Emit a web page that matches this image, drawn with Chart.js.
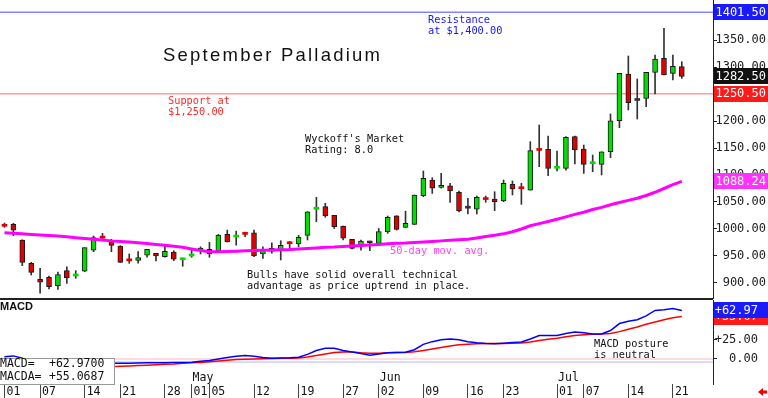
<!DOCTYPE html>
<html>
<head>
<meta charset="utf-8">
<script src="https://cdn.jsdelivr.net/npm/chart.js@4"></script>
<style>
  html, body { margin: 0; padding: 0; background: #fff; }
  #wrap { position: relative; width: 768px; height: 398px; overflow: hidden; background: #fff; }
  #priceBox { position: absolute; left: 0; top: 0; width: 768px; height: 300px; }
  #macdBox { position: absolute; left: 0; top: 300px; width: 768px; height: 98px; }
</style>
</head>
<body>
<div id="wrap">
  <div id="priceBox"><canvas id="priceChart"></canvas></div>
  <div id="macdBox"><canvas id="macdChart"></canvas></div>
</div>
<script>
// trading days, Apr 01 - Jul 22
const dates = [
  "04-01","04-02","04-03","04-04","04-07","04-08","04-09","04-10","04-11","04-14","04-15","04-16","04-17",
  "04-21","04-22","04-23","04-24","04-25","04-28","04-29","04-30",
  "05-01","05-02","05-05","05-06","05-07","05-08","05-09","05-12","05-13","05-14","05-15","05-16",
  "05-19","05-20","05-21","05-22","05-23","05-27","05-28","05-29","05-30",
  "06-02","06-03","06-04","06-05","06-06","06-09","06-10","06-11","06-12","06-13","06-16","06-17","06-18","06-20",
  "06-23","06-24","06-25","06-26","06-27","06-30",
  "07-01","07-02","07-03","07-07","07-08","07-09","07-10","07-11","07-14","07-15","07-16","07-17","07-18","07-21","07-22"
];
const emptySlots = ["", "", ""];
const labeledDates = ["04-01","04-07","04-14","04-21","04-28","05-01","05-05","05-12","05-19","05-27",
  "06-02","06-09","06-16","06-23","07-01","07-07","07-14","07-21"];
const monthStarts = ["05-01", "06-02", "07-01"];
const monthNames = ["May", "Jun", "Jul"];
const priceTicks = [900, 950, 1000, 1050, 1100, 1150, 1200, 1250, 1300, 1350, 1400];
const macdTicks = [0, 25, 50];

const opens = [1006.5,1008.7,979.6,936.5,906.8,910.5,895,922.8,913,921.7,961,984.5,978.3,968.5,943,942,951.3,955,948.7,957.4,
  943,950,960,962.4,958.7,990,985,991.5,993,953.7,964,961,974.4,972.2,988.3,1036.5,1041.3,1025.4,1005.5,981,
  968.5,977.8,973.5,995,1024.6,1003,1008.7,1061.7,1090.7,1077,1080,1068,1038.5,1036.5,1056.3,1055.5,1051.8,1082.8,1076,1072,
  1147,1147.6,1112.4,1112.4,1171,1148,1121,1119.8,1143,1200.5,1287,1238,1242,1290,1316,1288.3,1300.6];
const highs = [1011,1010.5,980,938.3,927.2,913,920,930,922.8,965.4,987,992,981,969,953.7,958,962.4,955,968.5,959.8,
  946,962,967,975.4,990,998,996,994.4,998,967,974.6,978.3,977,988.3,1032,1058.7,1047.6,1025.4,1005.5,981,
  979.6,977.8,1001,1024,1024.6,1033,1063,1107.4,1095,1103,1084.6,1070.4,1056.8,1061,1061,1069,1090.7,1088.9,1084.6,1161.7,
  1192.6,1172.2,1144.4,1171,1172.2,1155.6,1137,1143,1213,1288.3,1320.4,1277.8,1290,1322.2,1371.6,1322.2,1309.8];
const lows = [1003,987.6,932,914.8,881,889,888,899.4,908.7,921,958,978.3,958,938,936.5,936.5,947.6,940.7,947.6,941.3,
  931,947.6,953.7,947.6,958,975.9,970,985.7,948.7,945.7,955,942.6,964,967,979.6,1013.5,1021.7,1001,979.6,963,
  961,959.8,972,992,998,1003,1008,1059.8,1066,1075.4,1049.4,1031.5,1027.8,1027.8,1049.4,1033.9,1050.5,1063,1045.7,1072,
  1115.4,1098.7,1107.4,1109,1120.4,1103,1106,1100,1132,1187.6,1220.4,1203.7,1226.5,1250,1285.2,1276,1279];
const closes = [1005,998,938.3,919.8,901.3,893.2,915.4,909.8,915,965.4,983.9,983,969.8,938.3,941,946.9,962.4,950,958.7,943.9,
  945,952,964.8,953.7,988.9,976,986.5,990,950,959.8,959,969.8,972.6,984.6,1032,1038.5,1024,1004.3,982.8,964,
  977.8,974.6,995,1021.7,999.4,1010.5,1063,1093.9,1075.4,1080,1070.4,1033.3,1038.5,1058.7,1054.5,1050.5,1084.6,1074,1074.6,1145,
  1145.5,1112.4,1114.2,1169.8,1146.3,1119.8,1122.4,1143,1200.5,1288.3,1234,1238,1290,1314.8,1285.2,1301.2,1282.5];

const ma50 = [993,992,991,990,989,988,987,985.5,984,982.5,981,979.5,978,977,976,974.5,973,971.5,970,968,
  966,963,960,958,958,958.5,959,959.5,960,960.5,961,961.5,962,963,964,965,966,966.5,967.5,968.5,
  969.5,970.5,971.5,972.5,973.5,974,975,976,977,978,979,980,981,983.5,986,988.5,991,995,1000,1006,
  1010,1014,1018,1022.5,1027,1031,1036,1040,1045,1049,1053,1057,1062,1068,1075,1082,1088.24];

const macd = [3,4,1,-4,-8,-11,-12,-12,-11,-9,-7,-6,-5.5,-5.5,-5.5,-5.2,-5,-5,-4.8,-4.5,
  -4.5,-4.2,-3,-2,0,2,3.5,4.4,3.5,2,1,1.2,1.5,2.2,6,11,14,14,11,9,
  7,5,6.5,8,8.3,8.8,12,19,22.5,25,26,25,22.5,21,20,19.7,20.5,21.5,22,26,
  30.5,30.5,30.5,33,35,34,32.5,32.5,37,46,49,51,56,63,64,65.4,62.97];
const macdAvg = [-2,-2,-2.5,-3,-4,-5,-6,-7,-8,-8.5,-9,-9.5,-10,-9.5,-9,-8.5,-8,-7.5,-7,-6.5,
  -5.5,-5,-4.5,-3.5,-2.5,-1.5,-0.8,-0.4,0,0.3,0.5,0.8,1,1.2,2.5,4.5,6.5,8.5,9.2,9,
  8,7.5,7.5,8,8.3,8.5,9.5,11,13,15,17,18.5,19.2,19.7,20,20,20.2,20.4,20.6,22,
  24,25.5,27,29,30.5,31.5,32,32.3,33,35.5,38.5,41.5,45,48,51,53.5,55.0687];

const resistance = 1401.5;
const support = 1250.5;
const lastPrice = 1282.5;

const categories = dates.concat(emptySlots);
const monoFont = '"DejaVu Sans Mono", monospace';

const bodies = opens.map((o, i) => [Math.min(o, closes[i]), Math.max(o, closes[i])]);
const wicks = lows.map((l, i) => [l, highs[i]]);
const bodyColors = opens.map((o, i) => closes[i] > o ? "#00dd00" : closes[i] < o ? "#e00000" : "#333333");
const bodyBorders = opens.map((o, i) => Math.abs(closes[i] - o) < 2.6 ? 0 : 1);

function valueBox(ctx, yPix, color, text, textRight) {
  ctx.fillStyle = color;
  ctx.fillRect(714, Math.round(yPix) - 8, 54, 16);
  ctx.fillStyle = "#fff";
  ctx.font = "12px " + monoFont;
  ctx.textAlign = "right";
  ctx.textBaseline = "middle";
  ctx.fillText(text, textRight, yPix + 0.5);
}

function textLines(ctx, lines, x, y, step) {
  lines.forEach((t, i) => ctx.fillText(t, x, y + i * step));
}

const priceDecor = {
  id: "priceDecor",
  beforeDatasetsDraw(chart) {
    const { ctx, chartArea, scales: { y } } = chart;
    ctx.save();
    ctx.lineWidth = 1.5;
    ctx.strokeStyle = "#8484ff";
    ctx.beginPath();
    ctx.moveTo(chartArea.left, y.getPixelForValue(resistance));
    ctx.lineTo(chartArea.right, y.getPixelForValue(resistance));
    ctx.stroke();
    ctx.strokeStyle = "#ff9c9c";
    ctx.beginPath();
    ctx.moveTo(chartArea.left, y.getPixelForValue(support));
    ctx.lineTo(chartArea.right, y.getPixelForValue(support));
    ctx.stroke();
    ctx.restore();
  },
  afterDraw(chart) {
    const { ctx, chartArea, scales: { y } } = chart;
    ctx.save();
    // panel separator
    ctx.fillStyle = "#222";
    ctx.fillRect(0, chartArea.bottom, chartArea.right, 2);

    // title
    ctx.fillStyle = "#111";
    ctx.font = '18.5px "Liberation Sans", Arial, sans-serif';
    ctx.textAlign = "left";
    ctx.textBaseline = "alphabetic";
    const title = "September Palladium";
    const w = ctx.measureText(title).width;
    ctx.letterSpacing = ((217 - w) / (title.length - 1)).toFixed(2) + "px";
    ctx.fillText(title, 163, 61);
    ctx.letterSpacing = "0px";

    ctx.font = "10.3px " + monoFont;
    ctx.textBaseline = "middle";
    ctx.fillStyle = "#1414ff";
    textLines(ctx, ["Resistance", "at $1,400.00"], 428, 20, 11);
    ctx.fillStyle = "#ff2a2a";
    textLines(ctx, ["Support at", "$1,250.00"], 168, 101, 11);
    ctx.fillStyle = "#111";
    textLines(ctx, ["Wyckoff's Market", "Rating: 8.0"], 305, 139, 11);
    textLines(ctx, ["Bulls have solid overall technical", "advantage as price uptrend in place."], 247, 275, 11.5);
    ctx.fillStyle = "#ff44ff";
    ctx.fillText("50-day mov. avg.", 390, 251);

    valueBox(ctx, y.getPixelForValue(resistance), "#1a1aff", resistance.toFixed(2), 766);
    valueBox(ctx, y.getPixelForValue(lastPrice), "#111111", lastPrice.toFixed(2), 766);
    valueBox(ctx, y.getPixelForValue(support), "#ff1a1a", support.toFixed(2), 766);
    valueBox(ctx, y.getPixelForValue(ma50[ma50.length - 1]), "#ff33ff", ma50[ma50.length - 1].toFixed(2), 766);
    ctx.restore();
  }
};

const macdDecor = {
  id: "macdDecor",
  beforeDatasetsDraw(chart) {
    const { ctx, chartArea, scales: { y } } = chart;
    ctx.save();
    ctx.lineWidth = 1.5;
    ctx.strokeStyle = "#ffd0d0";
    ctx.beginPath();
    ctx.moveTo(chartArea.left, y.getPixelForValue(0));
    ctx.lineTo(chartArea.right, y.getPixelForValue(0));
    ctx.stroke();
    ctx.lineWidth = 1;
    ctx.strokeStyle = "#b4b4ff";
    ctx.beginPath();
    ctx.moveTo(chartArea.left, y.getPixelForValue(-4));
    ctx.lineTo(chartArea.right, y.getPixelForValue(-4));
    ctx.stroke();
    ctx.restore();
  },
  afterDraw(chart) {
    const { ctx, scales: { x, y } } = chart;
    ctx.save();
    ctx.fillStyle = "#111";
    ctx.font = 'bold 11px "Liberation Sans", Arial, sans-serif';
    ctx.textAlign = "left";
    ctx.textBaseline = "middle";
    ctx.fillText("MACD", 0, 7);

    ctx.font = "10.3px " + monoFont;
    textLines(ctx, ["MACD posture", "is neutral"], 594, 44, 11);

    // month names
    ctx.font = "11.5px " + monoFont;
    monthStarts.forEach((d, i) => {
      ctx.fillText(monthNames[i], x.getPixelForValue(dates.indexOf(d)) + 1, 78);
    });

    // legend box
    ctx.fillStyle = "#fff";
    ctx.fillRect(-1, 58, 116, 26);
    ctx.strokeStyle = "#999";
    ctx.lineWidth = 1;
    ctx.strokeRect(-0.5, 58.5, 115, 26);
    ctx.fillStyle = "#111";
    ctx.font = "11.5px " + monoFont;
    ctx.fillText("MACD=", 0, 64.5);
    ctx.fillText("+" + macd[macd.length - 1].toFixed(4), 49, 64.5);
    ctx.fillText("MACDA=", 0, 77);
    ctx.fillText("+" + macdAvg[macdAvg.length - 1].toFixed(4), 49, 77);

    valueBox(ctx, y.getPixelForValue(macdAvg[macdAvg.length - 1]), "#ff1a1a", "+" + macdAvg[macdAvg.length - 1].toFixed(2), 758);
    valueBox(ctx, y.getPixelForValue(macd[macd.length - 1]), "#1a1aff", "+" + macd[macd.length - 1].toFixed(2), 758);

    // little red arrow bottom right
    ctx.fillStyle = "#ee0000";
    ctx.beginPath();
    ctx.moveTo(758, 92);
    ctx.lineTo(763, 88);
    ctx.lineTo(763, 96);
    ctx.closePath();
    ctx.fill();
    ctx.fillRect(762, 90.5, 5, 3);
    ctx.restore();
  }
};

function fixYAxis(width) {
  return scale => {
    scale.width = width;
    scale.paddingTop = 0;
    scale.paddingBottom = 0;
  };
}

Chart.defaults.animation = false;

new Chart(document.getElementById("priceChart"), {
  type: "bar",
  data: {
    labels: categories,
    datasets: [
      {
        type: "line",
        data: ma50,
        borderColor: "#ff00ff",
        borderWidth: 3,
        pointRadius: 0,
        order: 0
      },
      {
        type: "bar",
        data: bodies,
        backgroundColor: bodyColors,
        borderColor: "#1a1a1a",
        borderWidth: bodyBorders,
        borderSkipped: false,
        barThickness: 5,
        minBarLength: 2,
        grouped: false,
        order: 1
      },
      {
        type: "bar",
        data: wicks,
        backgroundColor: "#333",
        barThickness: 1,
        grouped: false,
        order: 2
      }
    ]
  },
  options: {
    responsive: true,
    maintainAspectRatio: false,
    layout: { padding: { left: 0, top: 0, right: 2, bottom: 2 } },
    plugins: { legend: { display: false }, tooltip: { enabled: false } },
    scales: {
      x: { type: "category", display: false, offset: true },
      y: {
        position: "right",
        min: 872.2,
        max: 1424.1,
        afterFit: fixYAxis(53),
        afterBuildTicks: scale => {
          scale.ticks = priceTicks.map(v => ({ value: v }));
        },
        grid: { drawOnChartArea: false, tickLength: 4, color: "#222" },
        border: { display: true, color: "#222", width: 1 },
        ticks: {
          crossAlign: "far",
          color: "#222",
          font: { family: monoFont, size: 12 },
          callback: v => v.toFixed(2)
        }
      }
    }
  },
  plugins: [priceDecor]
});

new Chart(document.getElementById("macdChart"), {
  type: "line",
  data: {
    labels: categories,
    datasets: [
      { data: macd, borderColor: "#0000ff", borderWidth: 1.5, pointRadius: 0 },
      { data: macdAvg, borderColor: "#ff0000", borderWidth: 1.5, pointRadius: 0 }
    ]
  },
  options: {
    responsive: true,
    maintainAspectRatio: false,
    layout: { padding: { left: 0, top: 0, right: 10, bottom: 0 } },
    plugins: { legend: { display: false }, tooltip: { enabled: false } },
    scales: {
      x: {
        type: "category",
        offset: true,
        afterFit: scale => {
          scale.height = 14;
          scale.paddingLeft = 0;
          scale.paddingRight = 0;
        },
        grid: {
          offset: false,
          drawOnChartArea: false,
          tickLength: 14,
          color: c => labeledDates.includes(categories[c.index]) ? "#444" : "rgba(0,0,0,0)"
        },
        border: { display: false },
        ticks: {
          autoSkip: false,
          maxRotation: 0,
          minRotation: 0,
          align: "start",
          padding: -13,
          labelOffset: 2,
          color: "#111",
          font: { family: monoFont, size: 11.5 },
          callback: (v, i) => labeledDates.includes(categories[i]) ? categories[i].slice(3) : ""
        }
      },
      y: {
        position: "right",
        min: -32.5,
        max: 76.6,
        afterFit: fixYAxis(45),
        afterBuildTicks: scale => {
          scale.ticks = macdTicks.map(v => ({ value: v }));
        },
        grid: { drawOnChartArea: false, tickLength: 4, color: "#222" },
        border: { display: true, color: "#222", width: 1 },
        ticks: {
          crossAlign: "far",
          color: "#222",
          font: { family: monoFont, size: 12 },
          callback: v => (v > 0 ? "+" : "") + v.toFixed(2)
        }
      }
    }
  },
  plugins: [macdDecor]
});
</script>
</body>
</html>
